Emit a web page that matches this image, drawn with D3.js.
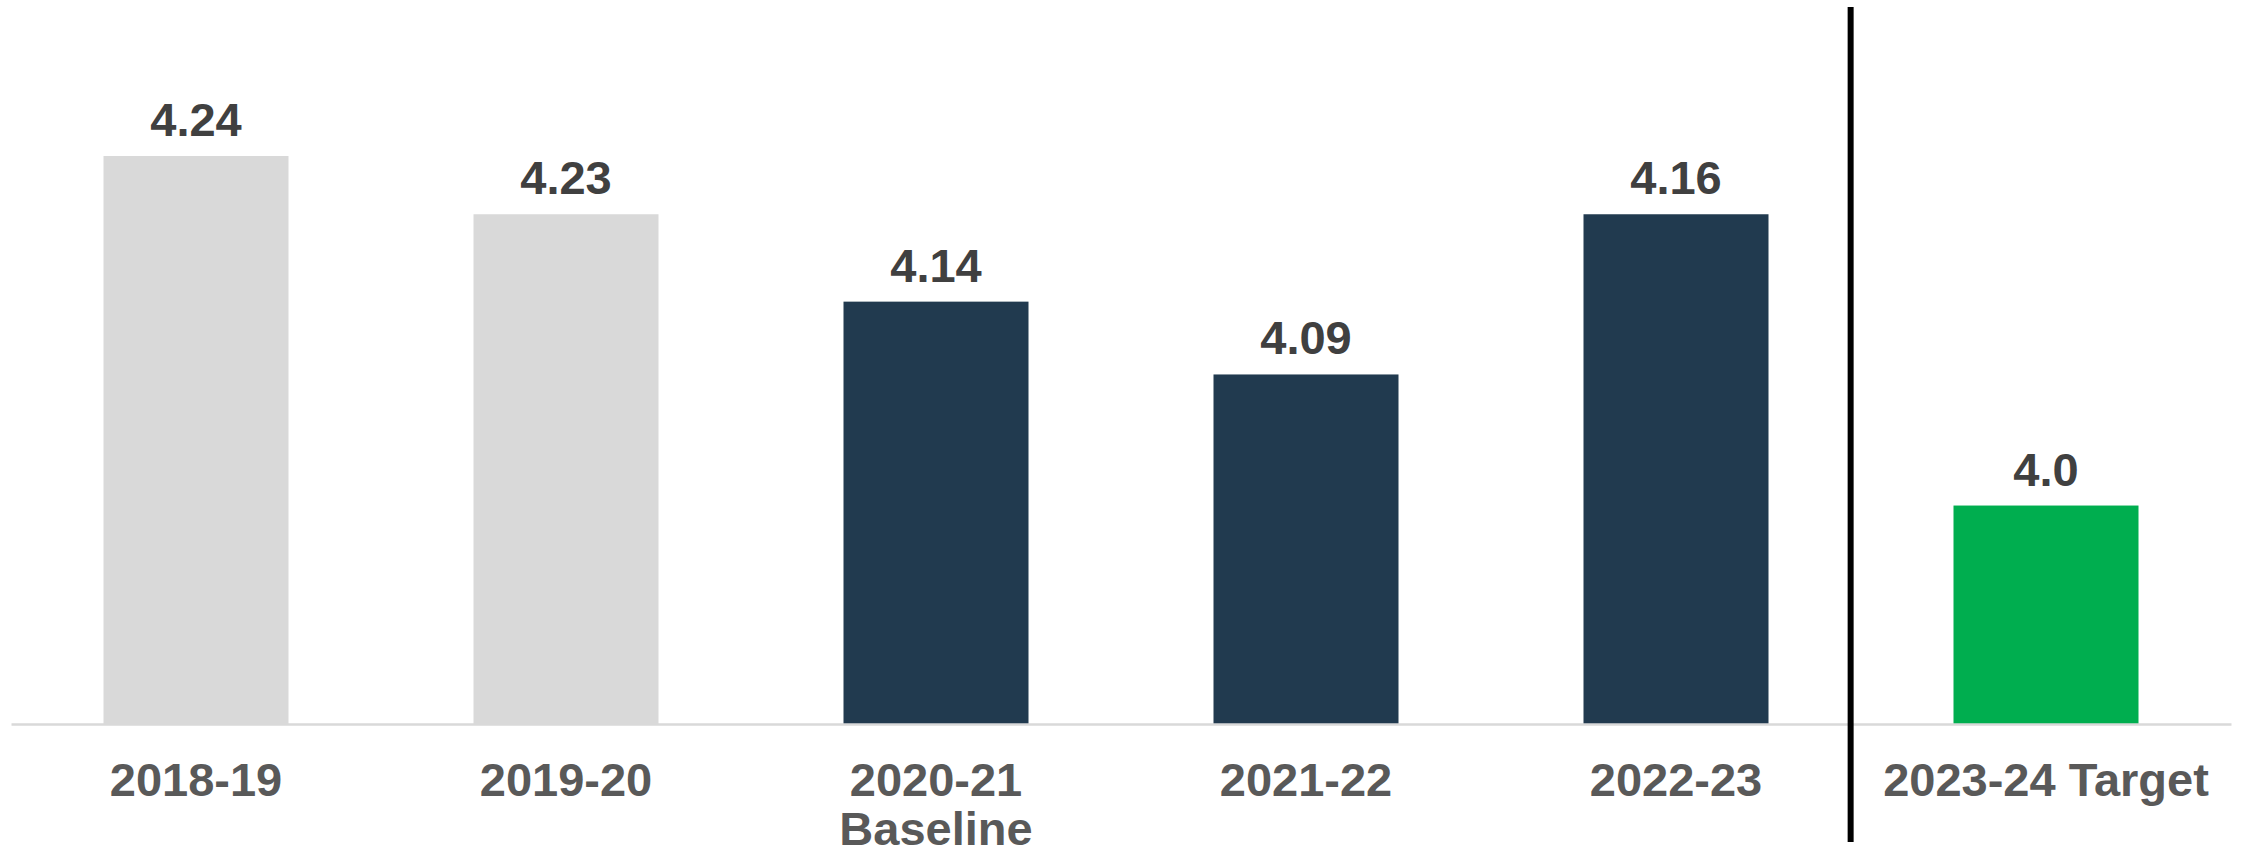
<!DOCTYPE html>
<html>
<head>
<meta charset="utf-8">
<script src="https://cdn.jsdelivr.net/npm/d3@7"></script>
<style>
  body { margin: 0; background: #fff; }
  text { font-family: "Liberation Sans", Arial, sans-serif; font-weight: bold; }
</style>
</head>
<body>
<div id="chart-area"></div>
<script>
const chartWidth = 2244
const chartHeight = 858

// categories (second line of label kept separately)
const categories = ["2018-19", "2019-20", "2020-21", "2021-22", "2022-23", "2023-24 Target"]
const subLabels = ["", "", "Baseline", "", "", ""]
// printed data labels
const valueLabels = ["4.24", "4.23", "4.14", "4.09", "4.16", "4.0"]
// bar heights as drawn in the picture (two bars are drawn at ~4.20)
const barValues = [4.24, 4.20, 4.14, 4.09, 4.20, 4.00]
const barColors = ["#d9d9d9", "#d9d9d9", "#213a4f", "#213a4f", "#213a4f", "#00ae4f"]

const svg = d3.select("#chart-area").append("svg")
    .attr("width", chartWidth)
    .attr("height", chartHeight)

const x = d3.scaleBand()
    .domain(categories)
    .range([11, 2231])
    .paddingInner(0.5)
    .paddingOuter(0.25)

const y = d3.scaleLinear()
    .domain([3.85, 4.24])
    .range([724, 156])

const data = categories.map((c, i) => ({cat: c, sub: subLabels[i], label: valueLabels[i], v: barValues[i], color: barColors[i]}))

// bars
svg.selectAll(".bar")
    .data(data)
    .enter()
    .append("rect")
    .attr("class", "bar")
    .attr("x", d => x(d.cat))
    .attr("y", d => y(d.v))
    .attr("width", x.bandwidth())
    .attr("height", d => y(3.85) - y(d.v))
    .style("fill", d => d.color)

// x axis line
const xAxis = d3.axisBottom(x).tickSize(0).tickFormat("")
svg.append("g")
    .attr("transform", `translate(0, ${y(3.85)})`)
    .call(xAxis)
    .call(g => g.select(".domain").attr("stroke", "#d9d9d9").attr("stroke-width", 2.5))

// value labels
svg.selectAll(".value")
    .data(data)
    .enter()
    .append("text")
    .attr("class", "value")
    .attr("x", d => x(d.cat) + x.bandwidth() / 2)
    .attr("y", d => y(d.v) - 20)
    .attr("text-anchor", "middle")
    .attr("font-size", "47px")
    .attr("fill", "#404040")
    .text(d => d.label)

// category labels
const cat = svg.selectAll(".cat")
    .data(data)
    .enter()
    .append("text")
    .attr("class", "cat")
    .attr("x", d => x(d.cat) + x.bandwidth() / 2)
    .attr("y", 796)
    .attr("text-anchor", "middle")
    .attr("font-size", "47px")
    .attr("fill", "#595959")

cat.append("tspan")
    .attr("x", d => x(d.cat) + x.bandwidth() / 2)
    .text(d => d.cat)

cat.filter(d => d.sub)
    .append("tspan")
    .attr("x", d => x(d.cat) + x.bandwidth() / 2)
    .attr("dy", 49)
    .text(d => d.sub)

// divider before the target bar
const divX = x(categories[5]) + x.bandwidth() / 2 - x.step() * 0.528
svg.append("line")
    .attr("x1", divX)
    .attr("x2", divX)
    .attr("y1", 7)
    .attr("y2", 842)
    .attr("stroke", "#000")
    .attr("stroke-width", 6)
</script>
</body>
</html>
